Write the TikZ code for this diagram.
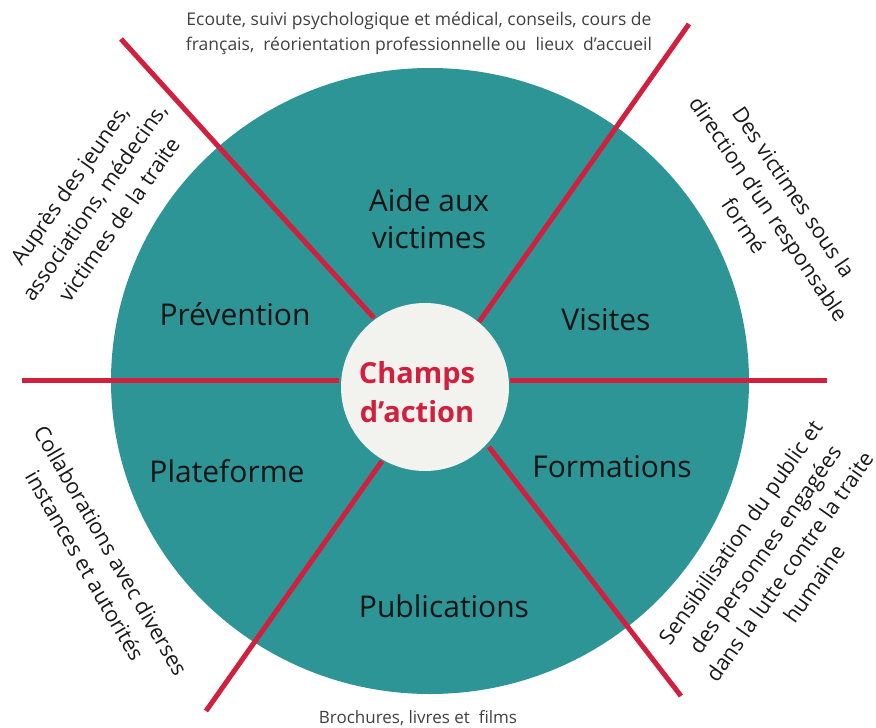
\documentclass[tikz,border=0pt]{standalone}
\usepackage{fontspec}
\setmainfont{Open Sans}
\definecolor{tealbg}{HTML}{2E9597}
\definecolor{redline}{HTML}{D11F3E}
\definecolor{innerbg}{HTML}{F2F2EE}
\definecolor{graytxt}{HTML}{404040}
\begin{document}
\begin{tikzpicture}[x=1pt,y=-1pt,
  spoke/.style={draw=redline,line width=5pt},
  seg/.style={font=\fontsize{30}{37}\selectfont,text=black!92,inner sep=0pt,align=center},
  side/.style={font=\fontsize{21.5}{30}\selectfont,align=center,inner sep=0pt,text=black!90},
  note/.style={font=\fontsize{17.5}{25}\selectfont,align=center,inner sep=0pt,text=graytxt}]
\useasboundingbox (0,0) rectangle (876,728);
% big disc
\fill[tealbg] (430,381) ellipse [x radius=319, y radius=313];
% spokes
\coordinate (hl1) at (22,380.5);
\coordinate (hl2) at (339,380.5);
\coordinate (hr1) at (510,380.5);
\coordinate (hr2) at (827,380.5);
\coordinate (tl1) at (121,39);
\coordinate (tl2) at (374,318);
\coordinate (tr1) at (689,24);
\coordinate (tr2) at (479,322);
\coordinate (bl1) at (382,461);
\coordinate (bl2) at (206,711);
\coordinate (br1) at (489,447);
\coordinate (br2) at (681,696);
\draw[spoke] (hl1) -- (hl2);
\draw[spoke] (hr1) -- (hr2);
\draw[spoke] (tl1) -- (tl2);
\draw[spoke] (tr1) -- (tr2);
\draw[spoke] (bl1) -- (bl2);
\draw[spoke] (br1) -- (br2);
% centre
\fill[innerbg] (425,387) circle [radius=84];
\node[font=\fontsize{29}{39}\selectfont\bfseries,text=redline,align=center,inner sep=0pt] (center) at (417,392) {Champs\\d’action};
% segment labels
\node[seg] (aide) at (429,219) {Aide aux\\victimes};
\node[seg,anchor=base] (prev) at (235,325) {Prévention};
\node[seg,anchor=base] (visi) at (606,330) {Visites};
\node[seg,anchor=base] (plat) at (227,482) {Plateforme};
\node[seg,anchor=base] (form) at (612,477) {Formations};
\node[seg,anchor=base] (publ) at (444,617) {Publications};
% outer notes
\node[note] (ntop) at (419,33) {Ecoute, suivi psychologique et médical, conseils, cours de\\français,\ \ réorientation professionnelle ou\ \ lieux\ \ d’accueil};
\node[note,font=\fontsize{17}{20}\selectfont] (nbot) at (418,718) {Brochures, livres et\ \ films};
\node[side,rotate=55] (ntl) at (94,202) {Auprès des jeunes,\\associations, médecins,\\victimes de la traite};
\node[side,rotate=-56] (ntr) at (769,209) {Des victimes sous la\\direction d’un responsable\\formé};
\node[side,rotate=-60] (nbl) at (98,558) {Collaborations avec diverses\\instances et autorités};
\node[side,rotate=55] (nbr) at (777,558) {Sensibilisation du public et\\des personnes engagées\\dans la lutte contre la traite\\humaine};
\end{tikzpicture}
\end{document}
